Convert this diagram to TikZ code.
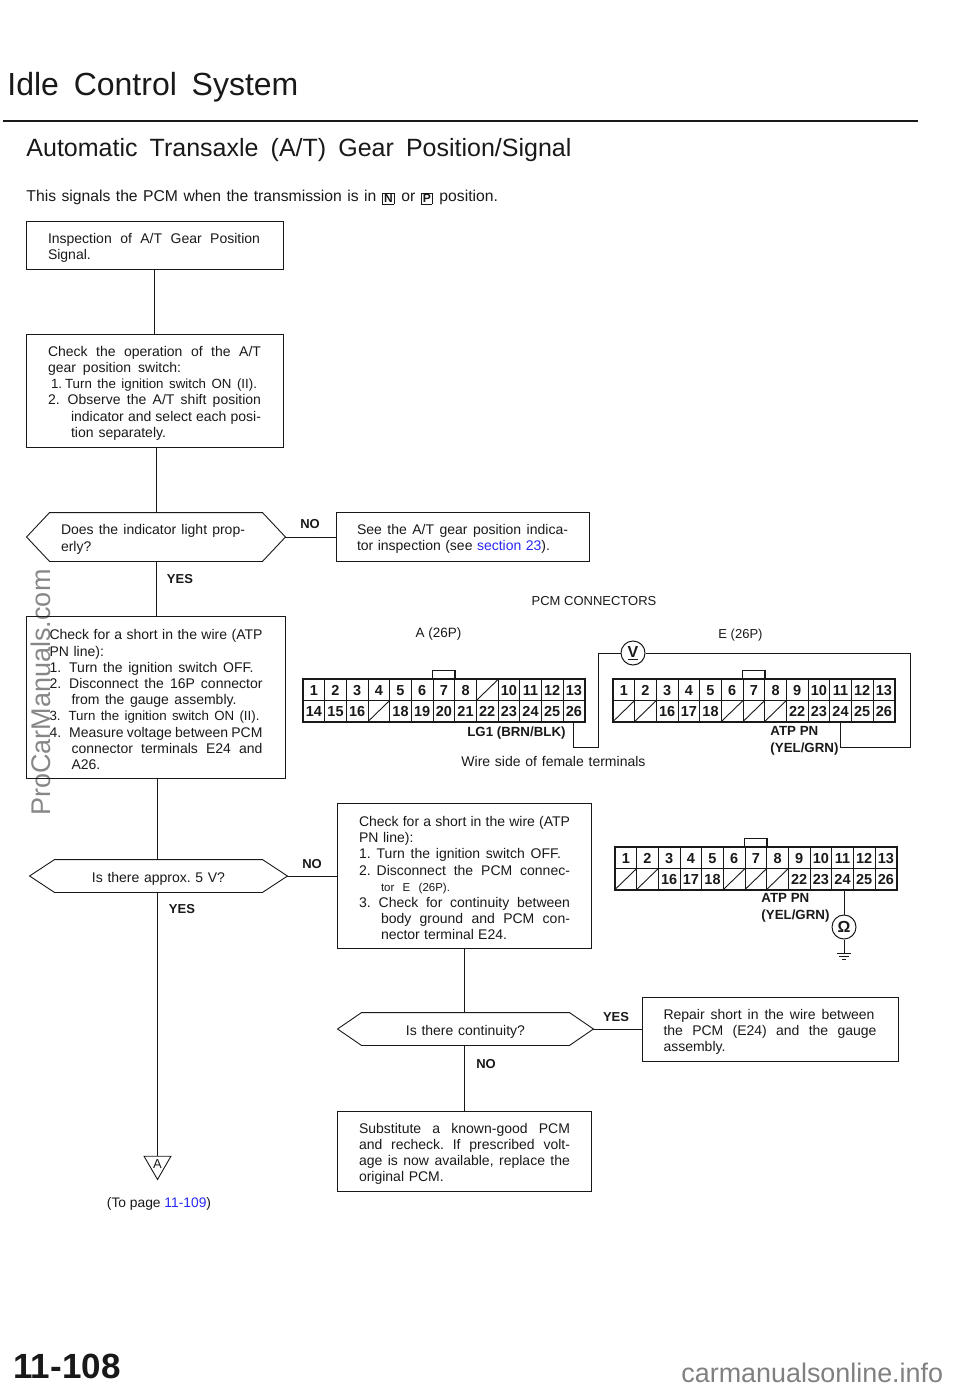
\documentclass[tikz,border=0pt]{standalone}
\usepackage{fontspec}
\usetikzlibrary{shapes.geometric}
\setmainfont{Liberation Sans}
\frenchspacing
\definecolor{linkblue}{RGB}{40,40,245}
\definecolor{markgray}{RGB}{135,135,135}

\newcommand{\fitline}[3][0pt]{\hspace*{#1}\makebox[#2][s]{\spaceskip=0pt\relax #3}}
\newcommand{\keybox}[1]{\raisebox{-1.5pt}{\setlength{\fboxsep}{1.2pt}\fbox{\fontsize{12}{13}\selectfont\bfseries #1}}}
\newcommand{\hexoutline}[2]{\draw (#1.west) -- ([xshift=#2]#1.north west) -- ([xshift=-#2]#1.north east) -- (#1.east) -- ([xshift=-#2]#1.south east) -- ([xshift=#2]#1.south west) -- cycle;}
\def\blankpin{x}
\newcommand{\pinrow}[4]{\foreach \n [count=\i from 0] in {#4} {
  \edef\pin{\n}
  \ifx\pin\blankpin
    \node[pincell] (#1h#3-\i) at ({#2+(\i+0.5)*21.67},#3) {};
    \draw (#1h#3-\i.south west) -- (#1h#3-\i.north east);
  \else
    \node[pincell] (#1\n) at ({#2+(\i+0.5)*21.67},#3) {\n};
  \fi}}

\tikzset{
  flowbox/.style={draw, line width=0.9pt, inner sep=0pt, text width=213pt, align=left, font=\fontsize{14}{16.2}\selectfont, execute at begin node={\leavevmode\rule{0pt}{15.5pt}}},
  hexbox/.style={inner sep=0pt, align=left, font=\fontsize{14}{16.2}\selectfont, execute at begin node={\leavevmode\rule{0pt}{15pt}}},
  answer/.style={inner sep=0pt, font=\fontsize{13}{15}\selectfont\bfseries},
  plaintext/.style={inner sep=0pt, font=\fontsize{13.5}{16}\selectfont},
  wirename/.style={inner sep=0pt, align=left, font=\fontsize{13.3}{16.5}\selectfont\bfseries},
  pincell/.style={draw, line width=0.6pt, inner sep=0pt, minimum width=21.67pt, minimum height=21pt, text height=10.5pt, text depth=0pt, font=\fontsize{14.5}{14.5}\selectfont\bfseries},
  meter/.style={draw, circle, line width=1pt, inner sep=0pt, minimum size=24pt, font=\fontsize{16}{16}\selectfont\bfseries}
}

\begin{document}
\begin{tikzpicture}[x=1pt,y=-1pt,line width=0.9pt,color=black!90]
\useasboundingbox (0,0) rectangle (960,1391);

%% watermarks
\node[rotate=90, anchor=base west, inner sep=0pt, text=markgray, font=\fontsize{27}{30}\selectfont] (sidemark) at (50,816) {ProCarManuals.com};
\node[anchor=base west, inner sep=0pt, text=black!50, font=\fontsize{26.9}{28}\selectfont] (footmark) at (681,1382) {carmanualsonline.info};

%% headings
\node[anchor=base west, inner sep=0pt, font=\fontsize{32}{36}\selectfont] (pagetitle) at (7,96) {\makebox[291pt][s]{Idle Control System}};
\draw[line width=2pt] (3,121) -- (918,121);
\node[anchor=base west, inner sep=0pt, font=\fontsize{25}{28}\selectfont] (subtitle) at (26,157) {\makebox[545pt][s]{Automatic Transaxle (A/T) Gear Position/Signal}};
\node[anchor=base west, inner sep=0pt, font=\fontsize{15.7}{18}\selectfont] (intro) at (26,201) {\fitline{350pt}{This signals the PCM when the transmission is in}\hspace{6pt}\keybox{N}\hspace{7pt}or\hspace{6pt}\keybox{P}\hspace{7pt}position.};
\node[anchor=base west, inner sep=0pt, font=\fontsize{35}{36}\selectfont\bfseries] (pagenum) at (13,1378) {\makebox[107pt][s]{11-108}};

%% left column
\node[flowbox, minimum width=257pt, minimum height=48pt] (inspect) at (154.5,245) {\fitline{212pt}{Inspection of A/T Gear Position}\\Signal.};
\node[flowbox, minimum width=257pt, minimum height=113pt] (checkop) at (154.5,390.5) {\fitline{213pt}{Check the operation of the A/T}\\\fitline{133pt}{gear position switch:}\\\fitline[3pt]{206pt}{\fontsize{13.3}{16.2}\selectfont 1.\hspace{3pt}Turn the ignition switch ON (II).}\\\fitline{213pt}{2.\hspace{8pt}Observe the A/T shift position}\\\fitline[23pt]{190pt}{indicator and select each posi-}\\\fitline[23pt]{95pt}{tion separately.}};
\node[hexbox, minimum width=258pt, minimum height=48pt, text width=190pt] (lighthex) at (156,537) {\fitline{184pt}{Does the indicator light prop-}\\erly?};
\hexoutline{lighthex}{23pt}
\node[flowbox, minimum width=259pt, minimum height=162pt] (shortv) at (156,697) {\fitline{213pt}{Check for a short in the wire (ATP}\\PN line):\\\fitline{204pt}{1.\hspace{8pt}Turn the ignition switch OFF.}\\\fitline{213pt}{2.\hspace{8pt}Disconnect the 16P connector}\\\fitline[22pt]{165pt}{from the gauge assembly.}\\\fitline{210pt}{\fontsize{13.3}{16.2}\selectfont 3.\hspace{8pt}Turn the ignition switch ON (II).}\\\fitline{213pt}{4.\hspace{8pt}Measure voltage between PCM}\\\fitline[22pt]{191pt}{connector terminals E24 and}\\\hspace*{22pt}A26.};
\node[hexbox, align=center, text width=170pt, minimum width=257pt, minimum height=32pt] (volthex) at (158.5,876) {Is there approx. 5 V?};
\hexoutline{volthex}{25pt}
\node[draw, regular polygon, regular polygon sides=3, shape border rotate=180, inner sep=0pt, minimum size=31pt, font=\fontsize{13}{13}\selectfont] (toA) at (157.5,1164) {A};
\node[plaintext, font=\fontsize{13.8}{16}\selectfont] (topage) at (159,1204) {(To page \textcolor{linkblue}{11-109})};

%% right column
\node[flowbox, text width=211pt, minimum width=253pt, minimum height=49pt] (seebox) at (462.5,536.5) {\fitline{211pt}{See the A/T gear position indica-}\\\fitline{193pt}{tor inspection (see \textcolor{linkblue}{section 23}).}};
\node[flowbox, text width=210pt, minimum width=254pt, minimum height=145pt] (shortg) at (464,875.5) {\fitline{211pt}{Check for a short in the wire (ATP}\\PN line):\\\fitline{202pt}{1.\hspace{6pt}Turn the ignition switch OFF.}\\\fitline{211pt}{2.\hspace{6pt}Disconnect the PCM connec-}\\\hspace*{22pt}{\fontsize{11.5}{16.2}\selectfont\makebox[69pt][s]{\spaceskip=0pt\relax tor E (26P).}}\\\fitline{211pt}{3.\hspace{8pt}Check for continuity between}\\\fitline[22pt]{189pt}{body ground and PCM con-}\\\fitline[22pt]{126pt}{nector terminal E24.}};
\node[hexbox, align=center, text width=170pt, minimum width=255pt, minimum height=32pt] (conthex) at (465.5,1029) {Is there continuity?};
\hexoutline{conthex}{24pt}
\node[flowbox, minimum width=256pt, minimum height=64pt] (repair) at (770,1029) {\fitline{211pt}{Repair short in the wire between}\\\fitline{213pt}{the PCM (E24) and the gauge}\\\fitline{63pt}{assembly.}};
\node[flowbox, text width=210pt, minimum width=254pt, minimum height=80pt] (subst) at (464,1151) {\fitline{211pt}{Substitute a known-good PCM}\\\fitline{211pt}{and recheck. If prescribed volt-}\\\fitline{211pt}{age is now available, replace the}\\original PCM.};

%% flow lines
\draw (inspect.south) -- (inspect.south |- checkop.north);
\draw (checkop.south -| lighthex.north) -- (lighthex.north);
\draw (lighthex.south) -- (shortv.north -| lighthex.south);
\draw (lighthex.east) -- (lighthex.east -| seebox.west);
\draw ([xshift=1pt]shortv.south) -- ([xshift=1pt]shortv.south |- volthex.north);
\draw (volthex.south -| toA.north) -- (toA.north);
\draw (volthex.east) -- (volthex.east -| shortg.west);
\draw (shortg.south) -- (shortg.south |- conthex.north);
\draw (subst.north |- conthex.south) -- (subst.north);
\draw (conthex.east) -- (repair.west);

%% answers
\node[answer] (noa) at (310,524) {NO};
\node[answer] (yesa) at (180,579) {YES};
\node[answer] (nob) at (312,864) {NO};
\node[answer] (yesb) at (182,909) {YES};
\node[answer] (yesc) at (616,1017) {YES};
\node[answer] (noc) at (486,1064) {NO};

%% connector labels
\node[plaintext, font=\fontsize{13}{16}\selectfont] (pcmtitle) at (594,601) {PCM CONNECTORS};
\node[plaintext] (atitle) at (438.5,634) {A (26P)};
\node[plaintext, font=\fontsize{13}{16}\selectfont] (etitle) at (740.5,635) {E (26P)};
\node[plaintext, anchor=base west, font=\fontsize{14}{16}\selectfont] (wireside) at (461,766) {\makebox[184pt][s]{Wire side of female terminals}};

%% connector A
\pinrow{A}{303}{690}{1,2,3,4,5,6,7,8,x,10,11,12,13}
\pinrow{A}{303}{711}{14,15,16,x,18,19,20,21,22,23,24,25,26}
\draw[line width=1.5pt] (A1.north west) rectangle (A26.south east);
\draw[line width=1.2pt] (A7.north west) -- ++(0,-9) -| (A7.north east);
\node[wirename, anchor=base east] (lgone) at (566,736) {LG1 (BRN/BLK)};

%% connector E
\pinrow{E}{613}{690}{1,2,3,4,5,6,7,8,9,10,11,12,13}
\pinrow{E}{613}{711}{x,x,16,17,18,x,x,x,22,23,24,25,26}
\draw[line width=1.5pt] (E1.north west) rectangle (E26.south east);
\draw[line width=1.2pt] (E7.north west) -- ++(0,-9) -| (E7.north east);
\node[wirename, anchor=north west] (atpe) at (770,726) {ATP PN\\(YEL/GRN)};

%% voltmeter
\node[meter] (vmeter) at (633,653) {\underline{V}};
\coordinate (wireA) at (598,747);
\coordinate (wireE) at (910,747);
\draw (A26.south) |- (wireA) |- (vmeter.west);
\draw (vmeter.east) -| (wireE) -| (E24.south);

%% connector E again, with ohmmeter
\pinrow{F}{615}{858}{1,2,3,4,5,6,7,8,9,10,11,12,13}
\pinrow{F}{615}{879}{x,x,16,17,18,x,x,x,22,23,24,25,26}
\draw[line width=1.5pt] (F1.north west) rectangle (F26.south east);
\draw[line width=1.2pt] (F7.north west) -- ++(0,-9) -| (F7.north east);
\node[wirename, anchor=north west] (atpf) at (761,893) {ATP PN\\(YEL/GRN)};
\node[meter] (ohmmeter) at (844,927) {Ω};
\coordinate (gnd) at (844,953);
\draw (ohmmeter.north |- F24.south) -- (ohmmeter.north);
\draw (ohmmeter.south) -- (gnd);
\draw ([xshift=-7pt]gnd) -- ([xshift=7pt]gnd);
\draw ([xshift=-5pt,yshift=-3pt]gnd) -- ([xshift=5pt,yshift=-3pt]gnd);
\draw ([xshift=-2pt,yshift=-6pt]gnd) -- ([xshift=2pt,yshift=-6pt]gnd);

\end{tikzpicture}
\end{document}
